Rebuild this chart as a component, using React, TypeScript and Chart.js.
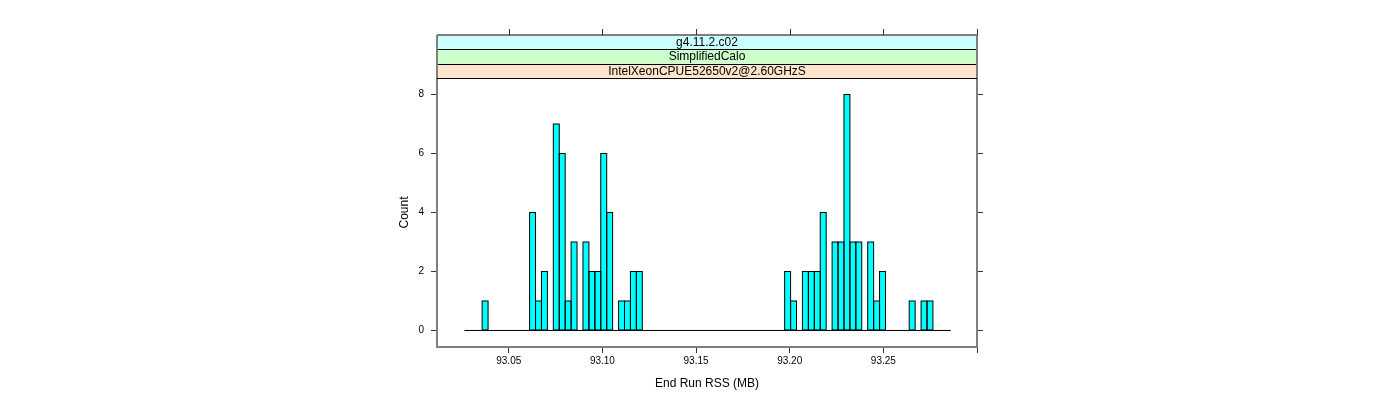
import React, { useEffect, useRef } from "react";
import { Chart, registerables } from "chart.js";

Chart.register(...registerables);

// ---- data ----
const binStart = 93.0263; // first histogram break (MB)
const binWidth = 0.0031668; // width of each histogram bin (MB)
const counts = [
  0, 0, 0, 1, 0, 0, 0, 0, 0, 0,
  0, 4, 1, 2, 0, 7, 6, 1, 3, 0,
  3, 2, 2, 6, 4, 0, 1, 1, 2, 2,
  0, 0, 0, 0, 0, 0, 0, 0, 0, 0,
  0, 0, 0, 0, 0, 0, 0, 0, 0, 0,
  0, 0, 0, 0, 2, 1, 0, 2, 2, 2,
  4, 0, 3, 3, 8, 3, 3, 0, 3, 1,
  2, 0, 0, 0, 0, 1, 0, 1, 1, 0,
  0, 0,
];
const xTicks = [93.05, 93.1, 93.15, 93.2, 93.25, 93.3];
const xTickLabels = ["93.05", "93.10", "93.15", "93.20", "93.25", ""];
const yTicks = [0, 2, 4, 6, 8];
const yTickLabels = ["0", "2", "4", "6", "8"];
const stripLabels = ["IntelXeonCPUE52650v2@2.60GHzS", "SimplifiedCalo", "g4.11.2.c02"]; // bottom to top
const stripColors = ["#ffe5cc", "#ccffcc", "#ccffff"];
const xTitle = "End Run RSS (MB)";
const yTitle = "Count";

const xMin = 93.0117;
const xMax = 93.3;
const yMin = -0.56;
const yMax = 8.56;

const FONT = "'Liberation Sans', Arial, Helvetica, sans-serif";
const FRAME = "#7f7f7f";
const TICK = "#333333";

const latticePlugin = {
  id: "lattice",
  afterDatasetsDraw(chart: any) {
    const ctx = chart.ctx;
    const meta = chart.getDatasetMeta(1);
    ctx.save();
    ctx.strokeStyle = "#000000";
    ctx.lineWidth = 1;
    meta.data.forEach((el: any, i: number) => {
      if (!counts[i]) return;
      const p = el.getProps(["x", "y", "base", "width"], true);
      ctx.strokeRect(p.x - p.width / 2, p.y, p.width, p.base - p.y);
    });
    ctx.restore();
  },
  afterDraw(chart: any) {
    const { ctx, chartArea: ca, scales } = chart;
    const xs = scales.x;
    const stripH = 14.33;
    const n = stripLabels.length;
    const topY = ca.top - n * stripH;
    ctx.save();
    for (let i = 0; i < n; i++) {
      const y0 = ca.top - (i + 1) * stripH;
      ctx.fillStyle = stripColors[i];
      ctx.fillRect(ca.left, y0, ca.right - ca.left, stripH);
      ctx.strokeStyle = "#000";
      ctx.lineWidth = 1;
      ctx.beginPath();
      ctx.moveTo(ca.left, Math.round(y0 + stripH) + 0.5);
      ctx.lineTo(ca.right, Math.round(y0 + stripH) + 0.5);
      ctx.stroke();
      ctx.fillStyle = "#000";
      ctx.font = `12px ${FONT}`;
      ctx.textAlign = "center";
      ctx.textBaseline = "middle";
      ctx.fillText(stripLabels[i], (ca.left + ca.right) / 2, y0 + stripH / 2 + 0.5);
    }
    // outer frame of strips
    ctx.strokeStyle = FRAME;
    ctx.lineWidth = 2;
    ctx.beginPath();
    ctx.moveTo(ca.left, topY);
    ctx.lineTo(ca.right, topY);
    ctx.moveTo(ca.left, topY);
    ctx.lineTo(ca.left, ca.top);
    ctx.moveTo(ca.right, topY);
    ctx.lineTo(ca.right, ca.top);
    ctx.stroke();
    // top ticks
    ctx.strokeStyle = TICK;
    ctx.lineWidth = 1;
    ctx.beginPath();
    xTicks.forEach((v) => {
      const px = Math.round(xs.getPixelForValue(v)) + 0.5;
      ctx.moveTo(px, topY - 6);
      ctx.lineTo(px, topY);
    });
    ctx.stroke();
    ctx.restore();
  },
};

export default function App() {
  const ref = useRef<HTMLCanvasElement>(null);
  useEffect(() => {
    Chart.defaults.font.family = FONT;
    Chart.defaults.color = "#000";
    const bars = counts.map((c, i) => ({ x: binStart + (i + 0.5) * binWidth, y: c }));
    const baseline = [
      { x: binStart, y: 0 },
      { x: binStart + counts.length * binWidth, y: 0 },
    ];
    const chart = new Chart(ref.current as HTMLCanvasElement, {
      type: "bar",
      data: {
        datasets: [
          {
            type: "line",
            data: baseline,
            borderColor: "#000",
            borderWidth: 1,
            pointRadius: 0,
          } as any,
          {
            type: "bar",
            data: bars,
            backgroundColor: "#00FFFF",
            borderWidth: 0,
            barPercentage: 1,
            categoryPercentage: 1,
            inflateAmount: 0,
          } as any,
        ],
      },
      options: {
        responsive: false,
        devicePixelRatio: 1,
        animation: false,
        layout: { padding: { left: 390, right: 410, top: 78, bottom: 0 } },
        plugins: { legend: { display: false }, tooltip: { enabled: false } },
        scales: {
          x: {
            type: "linear",
            position: "bottom",
            min: xMin,
            max: xMax,
            offset: false,
            afterBuildTicks: (s: any) => {
              s.ticks = xTicks.map((v) => ({ value: v }));
            },
            afterFit: (s: any) => {
              s.height = 53;
            },
            ticks: {
              autoSkip: false,
              maxRotation: 0,
              minRotation: 0,
              padding: 2,
              font: { size: 10 },
              color: "#000",
              callback: (_v: any, i: number) => xTickLabels[i] ?? "",
            },
            grid: { drawOnChartArea: false, tickLength: 6, color: TICK, offset: false },
            border: { display: true, color: FRAME, width: 2 },
            title: {
              display: true,
              text: xTitle,
              font: { size: 12 },
              color: "#000",
              padding: { top: 0, bottom: 9 },
            },
          },
          y: {
            type: "linear",
            position: "left",
            min: yMin,
            max: yMax,
            afterBuildTicks: (s: any) => {
              s.ticks = yTicks.map((v) => ({ value: v }));
            },
            afterFit: (s: any) => {
              s.width = 47;
            },
            ticks: {
              padding: 7,
              font: { size: 10 },
              color: "#000",
              callback: (_v: any, i: number) => yTickLabels[i] ?? "",
            },
            grid: { drawOnChartArea: false, tickLength: 6, color: TICK },
            border: { display: true, color: FRAME, width: 2 },
            title: {
              display: true,
              text: yTitle,
              font: { size: 12 },
              color: "#000",
              padding: { top: 7, bottom: 0 },
            },
          },
          y2: {
            type: "linear",
            position: "right",
            min: yMin,
            max: yMax,
            afterBuildTicks: (s: any) => {
              s.ticks = yTicks.map((v) => ({ value: v }));
            },
            afterFit: (s: any) => {
              s.width = 13;
            },
            ticks: { display: false },
            grid: { drawOnChartArea: false, tickLength: 6, color: TICK },
            border: { display: true, color: FRAME, width: 2 },
          },
        },
      } as any,
      plugins: [latticePlugin],
    });
    return () => chart.destroy();
  }, []);
  return (
    <div style={{ position: "absolute", left: 0, top: 0, width: 1400, height: 400 }}>
      <canvas ref={ref} width={1400} height={400} style={{ display: "block", width: 1400, height: 400 }} />
    </div>
  );
}
